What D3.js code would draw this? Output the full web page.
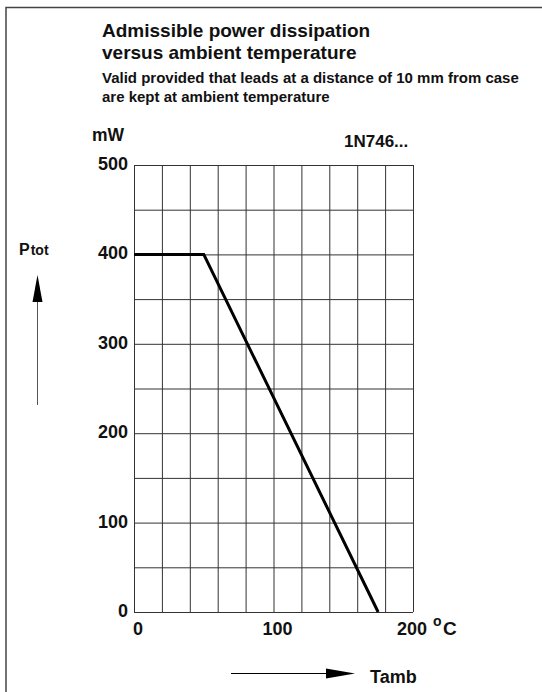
<!DOCTYPE html>
<html>
<head>
<meta charset="utf-8">
<script src="https://cdn.jsdelivr.net/npm/d3@7"></script>
<style>
  body { margin: 0; background: #fff; }
  text { font-family: "Liberation Sans", Arial, sans-serif; font-weight: bold; fill: #111; }
</style>
</head>
<body>
<div id="chart"></div>
<script>
// derating curve, 1N746...
const tempC = [0, 50, 175];
const powerMW = [400, 400, 0];
const xGrid = d3.range(0, 201, 20);
const yGrid = d3.range(0, 501, 50);
const xLabels = [0, 100, 200];
const yLabels = [0, 100, 200, 300, 400, 500];

const W = 542, H = 692;
const svg = d3.select("#chart").append("svg")
  .attr("width", W).attr("height", H);

// frame (left + top only visible)
svg.append("path")
  .attr("d", `M6,${H} L6,7.5 L${W},7.5`)
  .attr("fill", "none")
  .attr("stroke", "#444")
  .attr("stroke-width", 1.5);

// titles
svg.append("text").attr("x", 102).attr("y", 37).attr("font-size", "19px")
  .text("Admissible power dissipation");
svg.append("text").attr("x", 102).attr("y", 59).attr("font-size", "19px")
  .text("versus ambient temperature");
svg.append("text").attr("x", 102).attr("y", 83).attr("font-size", "15px")
  .text("Valid provided that leads at a distance of 10 mm from case");
svg.append("text").attr("x", 102).attr("y", 102).attr("font-size", "15px")
  .text("are kept at ambient temperature");

const x = d3.scaleLinear().domain([0, 200]).range([134, 413]);
const y = d3.scaleLinear().domain([0, 500]).range([612, 165]);

// grid through axes
const gx = svg.append("g")
  .attr("transform", `translate(0,${y(0)})`)
  .call(d3.axisBottom(x).tickValues(xGrid).tickSize(-(y(0) - y(500))).tickFormat(""));
const gy = svg.append("g")
  .attr("transform", `translate(${x(0)},0)`)
  .call(d3.axisLeft(y).tickValues(yGrid).tickSize(-(x(200) - x(0))).tickFormat(""));
[gx, gy].forEach(g => {
  g.select(".domain").remove();
  g.selectAll("line").attr("stroke", "#333").attr("stroke-width", 1);
});

// tick labels
svg.append("g").selectAll("text")
  .data(yLabels).enter().append("text")
  .attr("x", 128).attr("y", d => y(d) + 5)
  .attr("text-anchor", "end")
  .attr("font-size", "18px")
  .text(d => d);

svg.append("g").selectAll("text")
  .data(xLabels).enter().append("text")
  .attr("x", d => x(d) + (d === 200 ? -1 : 4))
  .attr("y", 635)
  .attr("text-anchor", "middle")
  .attr("font-size", "18px")
  .text(d => d);

// degree C
svg.append("text").attr("x", 433).attr("y", 626).attr("font-size", "14px").text("o");
svg.append("text").attr("x", 443).attr("y", 635).attr("font-size", "19px").text("C");

// unit + type
svg.append("text").attr("x", 92).attr("y", 141).attr("font-size", "17.5px").text("mW");
svg.append("text").attr("x", 344).attr("y", 147).attr("font-size", "17px").text("1N746...");

// curve
const line = d3.line().x(d => x(d[0])).y(d => y(d[1]));
svg.append("path")
  .datum(tempC.map((t, i) => [t, powerMW[i]]))
  .attr("d", line)
  .attr("fill", "none")
  .attr("stroke", "#000")
  .attr("stroke-width", 3);

// Ptot label + arrow
const pt = svg.append("text").attr("x", 19).attr("y", 255).attr("font-size", "16px");
pt.append("tspan").text("P");
pt.append("tspan").attr("dx", 1).attr("font-size", "14px").text("tot");
svg.append("line").attr("x1", 37.5).attr("x2", 37.5).attr("y1", 405).attr("y2", 295)
  .attr("stroke", "#555").attr("stroke-width", 1);
svg.append("path").attr("d", "M37.5,275 L32.5,302 L42.5,302 Z").attr("fill", "#000");

// Tamb label + arrow
svg.append("line").attr("x1", 231).attr("x2", 330).attr("y1", 673.5).attr("y2", 673.5)
  .attr("stroke", "#000").attr("stroke-width", 1);
svg.append("path").attr("d", "M355,673.5 L326,668.5 L326,678.5 Z").attr("fill", "#000");
svg.append("text").attr("x", 370).attr("y", 683).attr("font-size", "18px").text("Tamb");
</script>
</body>
</html>
